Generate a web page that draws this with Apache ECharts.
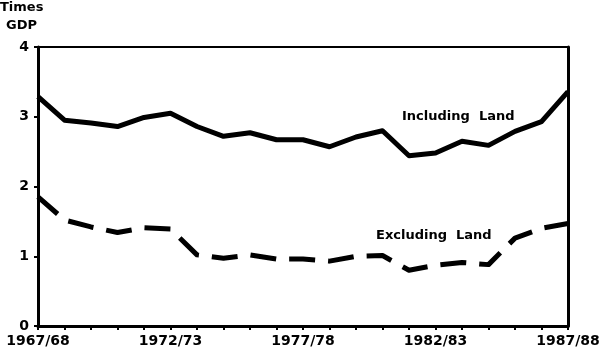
<!DOCTYPE html>
<html>
<head>
<meta charset="utf-8">
<script src="https://cdn.jsdelivr.net/npm/echarts@6/dist/echarts.min.js"></script>
<style>html,body{margin:0;padding:0;background:#fff}#c{width:600px;height:356px}</style>
</head>
<body>
<div id="c"></div>
<script>
const categories = ['1967/68','1968/69','1969/70','1970/71','1971/72','1972/73','1973/74','1974/75','1975/76','1976/77','1977/78','1978/79','1979/80','1980/81','1981/82','1982/83','1983/84','1984/85','1985/86','1986/87','1987/88'];
const shownLabels = ['1967/68','1972/73','1977/78','1982/83','1987/88'];
const includingLand = [3.29,2.95,2.91,2.86,2.99,3.05,2.86,2.72,2.77,2.67,2.67,2.57,2.71,2.80,2.44,2.48,2.65,2.59,2.79,2.93,3.36];
const excludingLand = [1.85,1.52,1.42,1.34,1.41,1.39,1.02,0.97,1.02,0.96,0.96,0.93,1.00,1.01,0.80,0.87,0.91,0.88,1.26,1.40,1.47];
const yTicks = [0,1,2,3,4];

const FONT = 'DejaVu Sans';
const chart = echarts.init(document.getElementById('c'), null, {renderer:'canvas'});
chart.setOption({
  animation:false,
  backgroundColor:'#fff',
  grid:{left:38,right:32,top:47,bottom:30,show:false,containLabel:false,outerBoundsMode:'none'},
  xAxis:[{
    type:'category',data:categories,boundaryGap:false,
    axisLine:{show:true,lineStyle:{color:'#000',width:3}},
    axisTick:{show:true,length:4,lineStyle:{color:'#000',width:2},interval:0},
    axisLabel:{interval:0,margin:8,color:'#000',fontFamily:FONT,fontWeight:'bold',fontSize:14,
      formatter:v=>shownLabels.includes(v)?v:''},
    splitLine:{show:false}
  },{
    type:'category',data:categories,boundaryGap:false,position:'top',
    axisLine:{show:true,onZero:false,lineStyle:{color:'#000',width:2}},axisTick:{show:false},axisLabel:{show:false}
  }],
  yAxis:[{
    type:'value',min:0,max:4,interval:1,
    axisLine:{show:true,lineStyle:{color:'#000',width:3}},
    axisTick:{show:true,length:4,lineStyle:{color:'#000',width:2}},
    axisLabel:{margin:9,color:'#000',fontFamily:FONT,fontWeight:'bold',fontSize:14,
      formatter:v=>yTicks.includes(v)?String(v):''},
    splitLine:{show:false}
  },{
    type:'value',min:0,max:4,interval:1,position:'right',
    axisLine:{show:true,onZero:false,lineStyle:{color:'#000',width:3}},
    axisTick:{show:false},axisLabel:{show:false},splitLine:{show:false}
  }],
  series:[{
    name:'Including Land',type:'line',data:includingLand,symbol:'none',
    lineStyle:{color:'#000',width:5,join:'round'}
  },{
    name:'Excluding Land',type:'line',data:excludingLand,symbol:'none',
    lineStyle:{color:'#000',width:5,type:[26,13],join:'round'}
  }],
  graphic:[
    {type:'text',left:0,top:1,style:{text:'Times',fill:'#000',font:'bold 13px "'+FONT+'"'}},
    {type:'text',left:6,top:19,style:{text:'GDP',fill:'#000',font:'bold 13px "'+FONT+'"'}},
    {type:'text',left:402,top:110,style:{text:'Including  Land',fill:'#000',font:'bold 13px "'+FONT+'"'}},
    {type:'text',left:376,top:229,style:{text:'Excluding  Land',fill:'#000',font:'bold 13px "'+FONT+'"'}}
  ]
});
</script>
</body>
</html>
